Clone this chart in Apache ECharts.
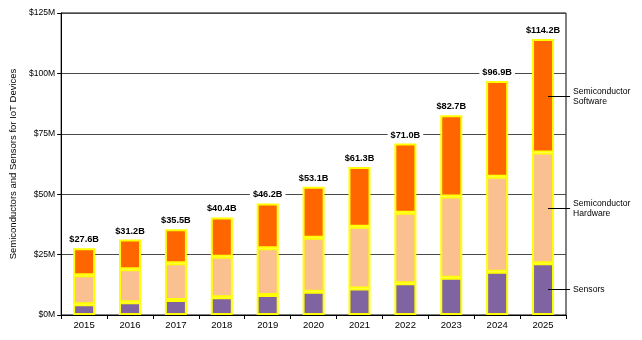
<!DOCTYPE html>
<html><head><meta charset="utf-8">
<script src="https://cdn.jsdelivr.net/npm/echarts@6/dist/echarts.min.js"></script>
<style>html,body{margin:0;padding:0;background:#fff}#c{width:642px;height:340px}</style>
</head><body><div id="c"></div>
<script>
var categories = ['2015','2016','2017','2018','2019','2020','2021','2022','2023','2024','2025'];
var sensors = [4.5, 5.3, 6.2, 7.3, 8.3, 9.6, 11.0, 13.1, 15.4, 17.9, 21.4];
var hardware = [12.0, 13.6, 15.2, 16.8, 19.3, 22.4, 25.5, 29.2, 33.6, 39.3, 45.9];
var software = [11.1, 12.3, 14.1, 16.3, 18.6, 21.1, 24.8, 28.7, 33.7, 39.7, 46.9];
var totalLabels = ['$27.6B','$31.2B','$35.5B','$40.4B','$46.2B','$53.1B','$61.3B','$71.0B','$82.7B','$96.9B','$114.2B'];
var yTicks = ['$0M','$25M','$50M','$75M','$100M','$125M'];
var seriesNames = ['Sensors','Semiconductor\nHardware','Semiconductor\nSoftware'];

var FONT = 'Liberation Sans, Arial, sans-serif';
var chart = echarts.init(document.getElementById('c'), null, {renderer:'canvas'});
function mkSeries(name, data, color, withTotal) {
  var s = {
    name: name, type: 'bar', stack: 'total', data: data, barWidth: 22,
    itemStyle: {color: color, borderColor: '#FFFF00', borderWidth: 2},
    emphasis: {disabled: true}, animation: false
  };
  if (withTotal) {
    s.label = {show: true, position: 'top', distance: 4,
      formatter: function(p){ return totalLabels[p.dataIndex]; },
      fontFamily: FONT, fontSize: 9.2, fontWeight: 'bold', color: '#000',
      backgroundColor: '#fff', padding: [1, 3, 0, 3]};
  }
  return s;
}
var option = {
  animation: false,
  grid: {left: 58, right: 76, top: 13, bottom: 25, show: true, borderColor: '#000', borderWidth: 1, backgroundColor: 'transparent'},
  xAxis: {
    type: 'category', data: categories,
    axisLine: {lineStyle: {color: '#000', width: 1}},
    axisTick: {show: true, length: 4, lineStyle: {color: '#000'}},
    axisLabel: {fontFamily: FONT, fontSize: 9.5, color: '#000', margin: 5},
    splitLine: {show: false}
  },
  yAxis: {
    type: 'value', min: 0, max: 125, interval: 25,
    name: 'Semiconductors and Sensors for IoT Devices', nameLocation: 'middle', nameGap: 38,
    nameTextStyle: {fontFamily: FONT, fontSize: 9.5, color: '#000'},
    axisLine: {show: true, lineStyle: {color: '#000', width: 1}},
    axisTick: {show: true, length: 4, lineStyle: {color: '#000'}},
    axisLabel: {fontFamily: FONT, fontSize: 8.6, color: '#000', margin: 6,
      formatter: function(v){ return yTicks[Math.round(v/25)]; }},
    splitLine: {show: true, lineStyle: {color: '#4a4a4a', width: 1}}
  },
  series: [
    mkSeries(seriesNames[0], sensors, '#8064A2', false),
    mkSeries(seriesNames[1], hardware, '#FAC090', false),
    mkSeries(seriesNames[2], software, '#FF6600', true)
  ]
};
chart.setOption(option);

// Right-side series labels with leader lines, positioned from the last category
var last = categories.length - 1;
var graphics = [];
var base = 0;
var segs = [sensors, hardware, software];
for (var i = 0; i < segs.length; i++) {
  var mid = base + segs[i][last] / 2;
  base += segs[i][last];
  var pt = chart.convertToPixel({gridIndex: 0}, [categories[last], mid]);
  var y = Math.round(pt[1]) + 0.5;
  graphics.push({type: 'line', shape: {x1: pt[0] + 5, y1: y, x2: pt[0] + 27, y2: y},
    style: {stroke: '#000', lineWidth: 1}, z: 100});
  graphics.push({type: 'text', x: pt[0] + 30, y: y,
    style: {text: seriesNames[i], fontFamily: FONT, fontSize: 8.6, fill: '#000',
      textVerticalAlign: 'middle', textAlign: 'left', lineHeight: 10.5}, z: 100});
}
chart.setOption({graphic: graphics});
</script>
</body></html>
